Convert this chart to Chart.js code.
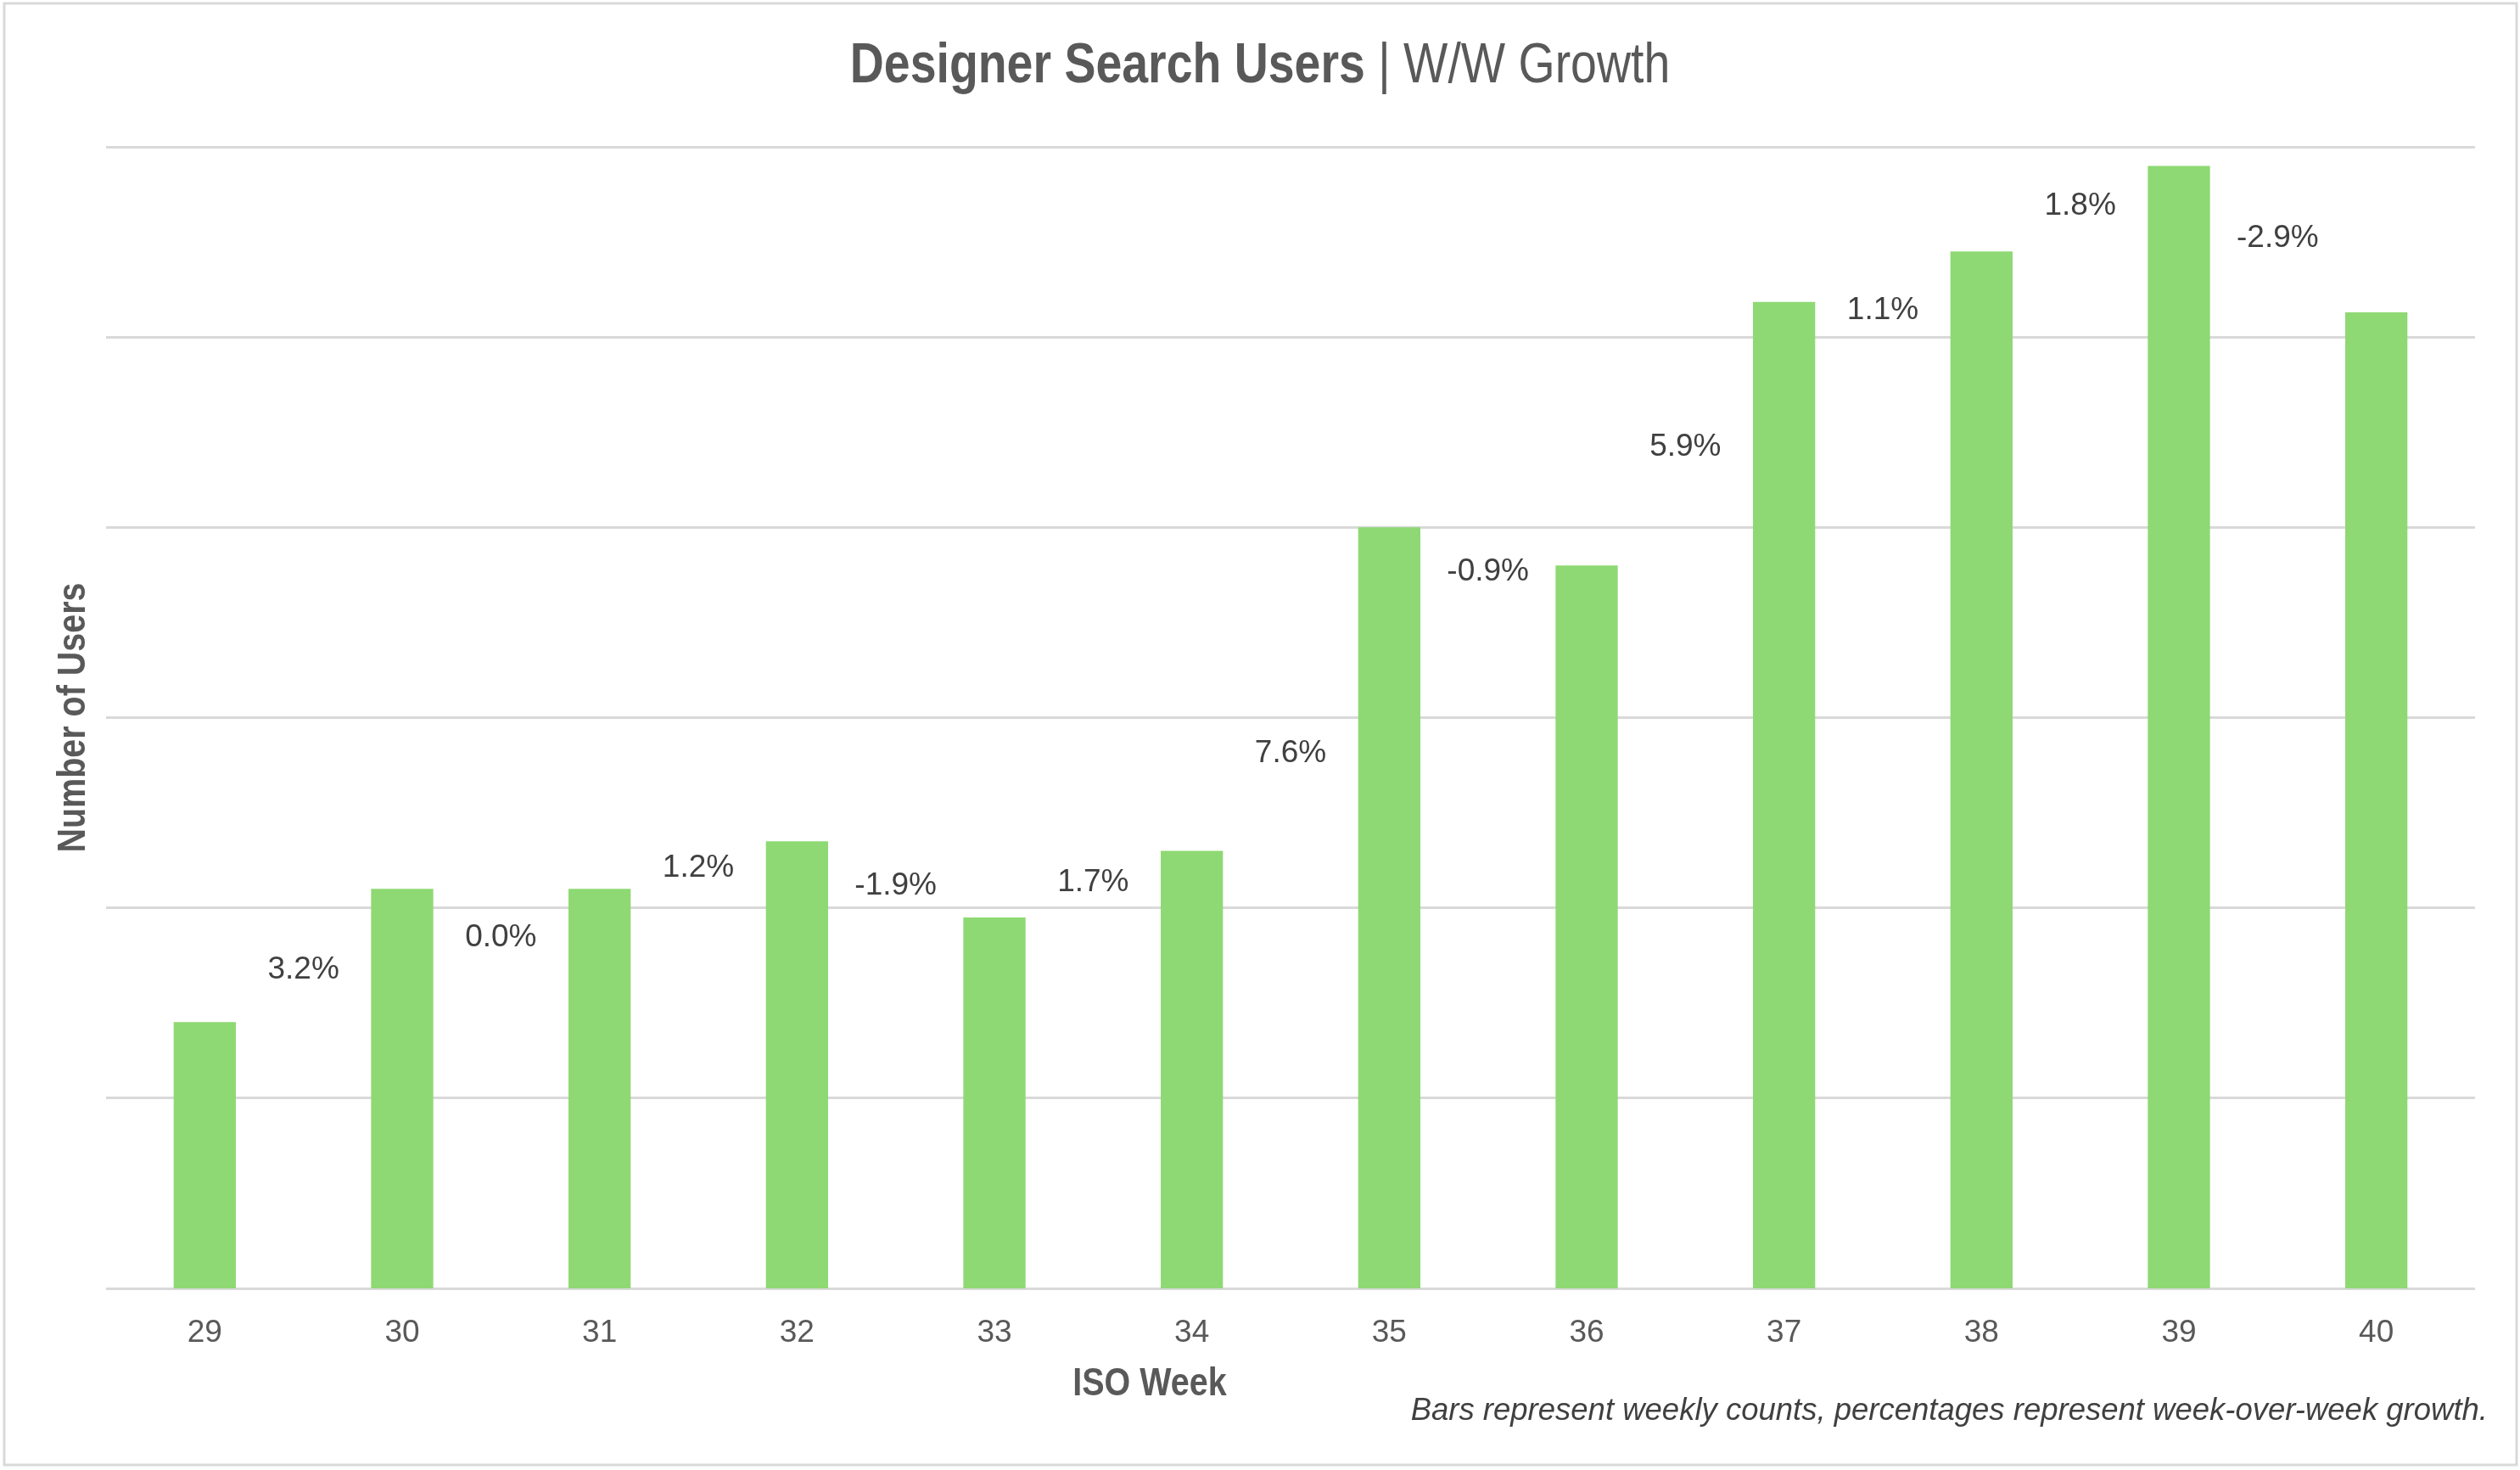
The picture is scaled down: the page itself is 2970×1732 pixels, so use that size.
<!DOCTYPE html>
<html>
<head>
<meta charset="utf-8">
<script src="https://cdn.jsdelivr.net/npm/chart.js@4.4.1/dist/chart.umd.min.js"></script>
<style>
html, body { margin: 0; padding: 0; background: #ffffff; }
#wrap { width: 2970px; height: 1732px; }
</style>
</head>
<body>
<div id="wrap"><canvas id="myChart"></canvas></div>
<script>
const weeks = ['29', '30', '31', '32', '33', '34', '35', '36', '37', '38', '39', '40'];
const users = [408, 422, 422, 427, 419, 426, 460, 456, 483.7, 489, 498, 482.6];
const growth = ['3.2%', '0.0%', '1.2%', '-1.9%', '1.7%', '7.6%', '-0.9%', '5.9%', '1.1%', '1.8%', '-2.9%'];
// where each growth label sits, in user units
const growthLabelY = [413.5, 416.9, 424.2, 422.3, 422.7, 436.2, 455.3, 468.4, 482.8, 493.8, 490.4];
const yMin = 380, yMax = 500, yStep = 20;

const SANS = '"Liberation Sans", Arial, sans-serif';
const SQUEEZE = 0.84; // no narrow face installed, so squeeze the sans horizontally

// draw text squeezed horizontally, anchored at x by align
function narrowText(c, text, x, y, align) {
	const w = c.measureText(text).width * SQUEEZE;
	let left = x;
	if (align === 'center') left = x - w / 2;
	else if (align === 'right') left = x - w;
	c.save();
	c.translate(left, y);
	c.scale(SQUEEZE, 1);
	c.textAlign = 'left';
	c.fillText(text, 0, 0);
	c.restore();
	return w;
}

const frame = {
	id: 'frame',
	beforeDraw(chart) {
		const c = chart.ctx;
		c.save();
		c.fillStyle = '#ffffff';
		c.fillRect(0, 0, chart.width, chart.height);
		c.strokeStyle = '#D9D9D9';
		c.lineWidth = 3;
		c.strokeRect(5, 4, chart.width - 9, chart.height - 10);
		c.restore();
	}
};

const growthLabels = {
	id: 'growthLabels',
	afterDatasetsDraw(chart) {
		const c = chart.ctx;
		const bars = chart.getDatasetMeta(0).data;
		const y = chart.scales.y;
		c.save();
		c.font = '37px ' + SANS;
		c.fillStyle = '#404040';
		c.textAlign = 'center';
		c.textBaseline = 'middle';
		growth.forEach((g, i) => {
			const x = (bars[i].x + bars[i + 1].x) / 2;
			c.fillText(g, x, y.getPixelForValue(growthLabelY[i]));
		});
		c.restore();
	}
};

const texts = {
	id: 'texts',
	afterDraw(chart) {
		const c = chart.ctx;
		const area = chart.chartArea;
		c.save();
		c.textBaseline = 'middle';
		c.fillStyle = '#595959';

		// title: bold part + regular part
		const boldPart = 'Designer Search Users';
		const restPart = ' | W/W Growth';
		c.font = 'bold 66px ' + SANS;
		const w1 = c.measureText(boldPart).width * SQUEEZE;
		c.font = '66px ' + SANS;
		const w2 = c.measureText(restPart).width * SQUEEZE;
		const x0 = chart.width / 2 - (w1 + w2) / 2;
		c.font = 'bold 66px ' + SANS;
		narrowText(c, boldPart, x0, 79, 'left');
		c.font = '66px ' + SANS;
		narrowText(c, restPart, x0 + w1, 79, 'left');

		// x axis title
		c.font = 'bold 47px ' + SANS;
		narrowText(c, 'ISO Week', 1355, 1631, 'center');

		// y axis title
		c.save();
		c.translate(87, (area.top + area.bottom) / 2);
		c.rotate(-Math.PI / 2);
		narrowText(c, 'Number of Users', 0, 0, 'center');
		c.restore();

		// footnote
		c.fillStyle = '#404040';
		c.font = 'italic 36.5px ' + SANS;
		c.textAlign = 'right';
		c.fillText('Bars represent weekly counts, percentages represent week-over-week growth.', 2932, 1663);
		c.restore();
	}
};

const ctx = document.getElementById('myChart');
new Chart(ctx, {
	type: 'bar',
	data: {
		labels: weeks,
		datasets: [{
			label: 'Users',
			data: users,
			backgroundColor: '#8ED973',
			borderWidth: 0,
			categoryPercentage: 1,
			barPercentage: 0.315,
		}]
	},
	options: {
		responsive: true,
		maintainAspectRatio: false,
		animation: false,
		devicePixelRatio: 1,
		layout: {
			padding: { top: 173, right: 53, bottom: 0, left: 10 }
		},
		plugins: {
			legend: { display: false },
			tooltip: { enabled: false },
			title: { display: false }
		},
		scales: {
			x: {
				grid: { display: false, drawTicks: false },
				border: { display: false },
				ticks: {
					color: '#595959',
					padding: 31,
					font: { family: SANS, size: 37 }
				},
				afterFit(scale) { scale.height = 214; }
			},
			y: {
				min: yMin,
				max: yMax,
				grid: { color: '#D9D9D9', lineWidth: 3, drawTicks: false },
				border: { display: false },
				ticks: { display: false, stepSize: yStep },
				afterFit(scale) { scale.width = 115; }
			}
		}
	},
	plugins: [frame, growthLabels, texts]
});
</script>
</body>
</html>
